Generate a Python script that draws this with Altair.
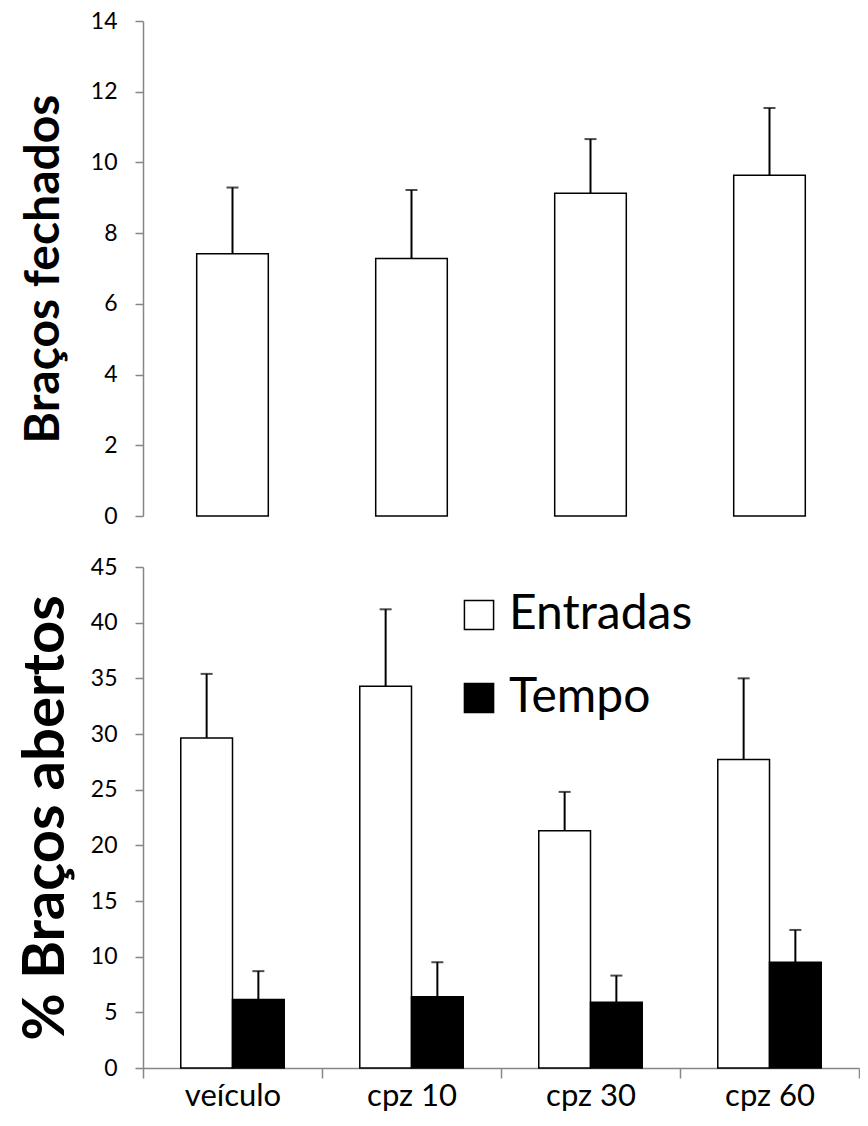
import altair as alt
import pandas as pd

# ---- data ----
categories = ["veículo", "cpz 10", "cpz 30", "cpz 60"]
fechados_mean = [7.42, 7.28, 9.13, 9.64]
fechados_upper = [9.29, 9.22, 10.66, 11.54]

series = ["Entradas", "Tempo"]
entradas_mean = [29.65, 34.3, 21.3, 27.7]
entradas_upper = [35.4, 41.2, 24.8, 35.0]
tempo_mean = [6.15, 6.4, 5.9, 9.5]
tempo_upper = [8.7, 9.5, 8.3, 12.4]

top_ticks = [0, 2, 4, 6, 8, 10, 12, 14]
bottom_ticks = [0, 5, 10, 15, 20, 25, 30, 35, 40, 45]

FONT = "Lato"
AXIS_GRAY = "#868686"

top_df = pd.DataFrame({"grupo": categories, "media": fechados_mean, "sup": fechados_upper})
bot_df = pd.DataFrame({
    "grupo": categories * 2,
    "serie": [series[0]] * 4 + [series[1]] * 4,
    "media": entradas_mean + tempo_mean,
    "sup": entradas_upper + tempo_upper,
})

W = 716

xscale = alt.Scale(domain=categories, paddingInner=0, paddingOuter=0)

yaxis_common = dict(
    domainColor=AXIS_GRAY, domainWidth=1.5, tickColor=AXIS_GRAY, tickWidth=1.5,
    tickSize=8, labelPadding=18, labelFontSize=23, labelFont=FONT, labelColor="black",
    grid=False, titleFont=FONT, titleFontWeight="bold", titleColor="black",
)

# ---- top panel ----
top_base = alt.Chart(top_df).encode(
    x=alt.X("grupo:N", sort=categories, scale=xscale, axis=None)
)
top_y = alt.Y("media:Q", scale=alt.Scale(domain=[0, 14], nice=False),
              axis=alt.Axis(values=top_ticks, title="Braços fechados",
                            titleFontSize=48, titlePadding=22, **yaxis_common))
top_bars = top_base.mark_bar(fill="white", stroke="black", strokeWidth=1.5,
                             width=alt.RelativeBandSize(0.4)).encode(y=top_y)
top_err = top_base.mark_rule(color="black", strokeWidth=2).encode(y="media:Q", y2="sup:Q")
top_cap = top_base.mark_tick(color="black", thickness=2, size=12).encode(y="sup:Q")
top = alt.layer(top_bars, top_err, top_cap).properties(width=W, height=495)

# ---- bottom panel ----
xoff = alt.XOffset("serie:N", sort=series,
                   scale=alt.Scale(domain=series, paddingInner=0, paddingOuter=0.73))
bot_base = alt.Chart(bot_df).encode(
    x=alt.X("grupo:N", sort=categories, scale=xscale,
            axis=alt.Axis(title=None, tickBand="extent", labelAngle=0,
                          domainColor=AXIS_GRAY, domainWidth=1.5, tickColor=AXIS_GRAY,
                          tickWidth=1.5, tickSize=10, labelPadding=3, labelFontSize=31,
                          labelFont=FONT, labelColor="black")),
    xOffset=xoff,
)
bot_y = alt.Y("media:Q", scale=alt.Scale(domain=[0, 45], nice=False),
              axis=alt.Axis(values=bottom_ticks, title="% Braços abertos",
                            titleFontSize=58, titlePadding=15, **yaxis_common))
bot_bars = bot_base.mark_bar(stroke="black", strokeWidth=1.5).encode(
    y=bot_y,
    fill=alt.Fill("serie:N", sort=series,
                  scale=alt.Scale(domain=series, range=["white", "black"]),
                  legend=alt.Legend(title=None, orient="none", legendX=312, legendY=570,
                                    symbolType="square", symbolSize=850,
                                    symbolStrokeColor="black", symbolStrokeWidth=1.5,
                                    labelFont=FONT, labelFontSize=48, labelColor="black",
                                    labelOffset=6, rowPadding=35, labelLimit=400)),
)
bot_err = bot_base.mark_rule(color="black", strokeWidth=2).encode(y="media:Q", y2="sup:Q")
bot_cap = bot_base.mark_tick(color="black", thickness=2, size=12).encode(y="sup:Q")
bottom = alt.layer(bot_bars, bot_err, bot_cap).properties(width=W, height=501)

chart = alt.vconcat(top, bottom, spacing=28).resolve_scale(
    y="independent"
).properties(
    padding={"left": 9, "top": 2, "right": 0, "bottom": 0}
).configure_view(stroke=None)

chart.save("out.html", embed_options={"renderer": "svg", "actions": False})
